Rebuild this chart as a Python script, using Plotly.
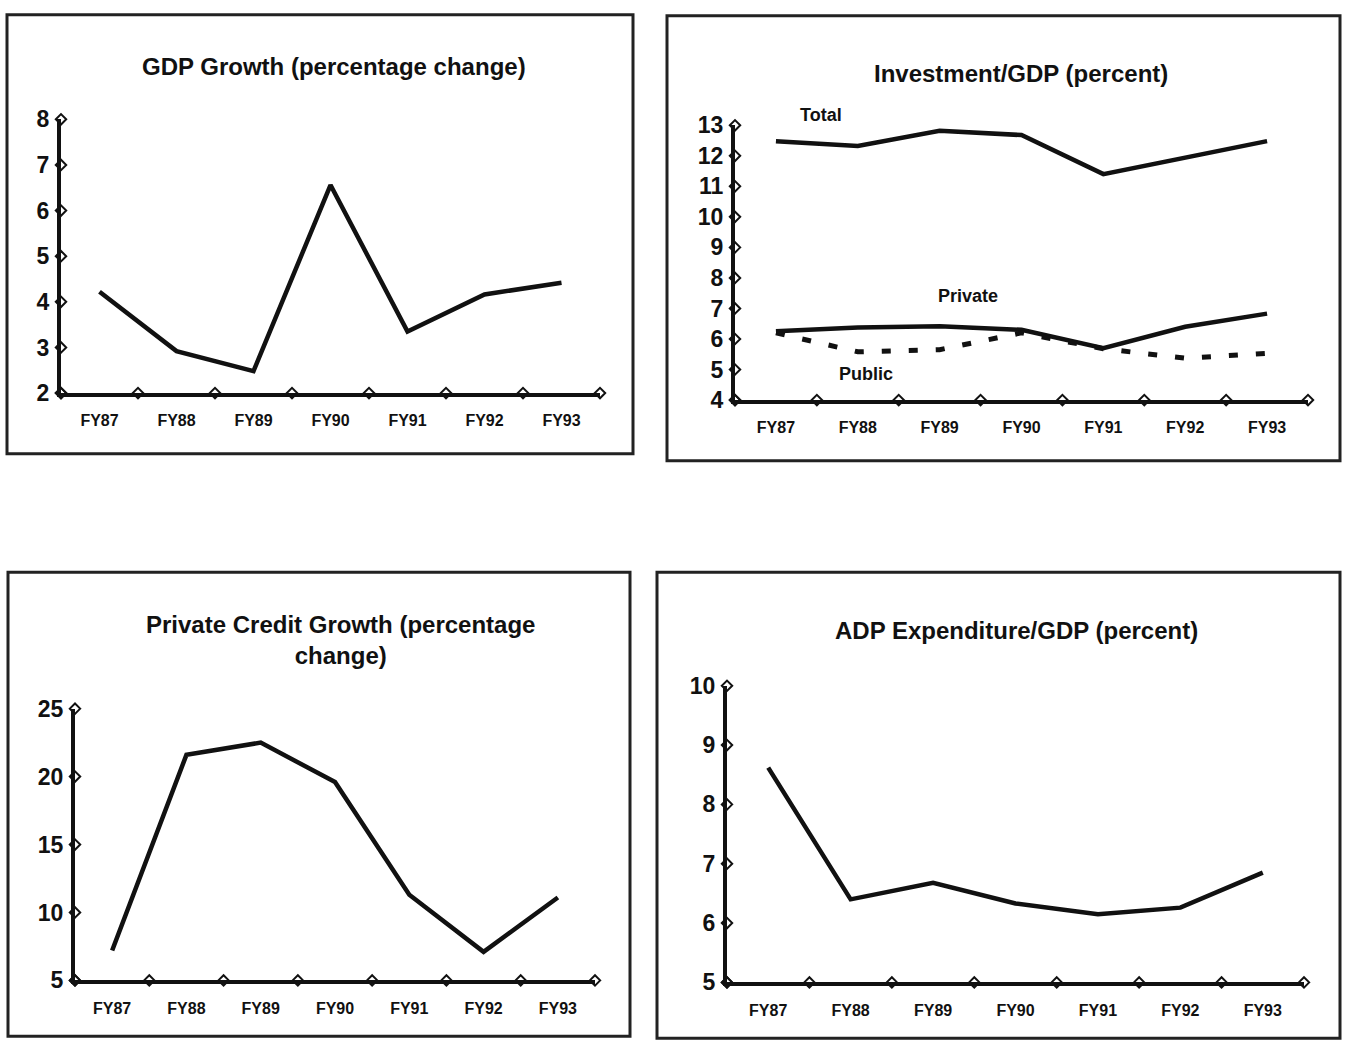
import plotly.graph_objects as go

# Fiscal years shown on every panel
years = ["FY87", "FY88", "FY89", "FY90", "FY91", "FY92", "FY93"]

# GDP growth (percentage change)
gdp_growth = [4.22, 2.92, 2.48, 6.56, 3.35, 4.16, 4.42]
gdp_ticks = [2, 3, 4, 5, 6, 7, 8]

# Investment / GDP (percent)
inv_total = [12.48, 12.32, 12.82, 12.68, 11.40, 11.95, 12.48]
inv_private = [6.25, 6.38, 6.42, 6.30, 5.70, 6.40, 6.83]
inv_public = [6.20, 5.58, 5.65, 6.20, 5.68, 5.37, 5.53]
inv_ticks = [4, 5, 6, 7, 8, 9, 10, 11, 12, 13]

# Private credit growth (percentage change)
credit_growth = [7.2, 21.6, 22.5, 19.6, 11.3, 7.1, 11.1]
credit_ticks = [5, 10, 15, 20, 25]

# ADP expenditure / GDP (percent)
adp_share = [8.62, 6.40, 6.68, 6.33, 6.15, 6.26, 6.85]
adp_ticks = [5, 6, 7, 8, 9, 10]

W, H = 1346, 1043
FONT = "Liberation Sans, Arial, sans-serif"


def px_x(p):
    return p / W


def px_y(p):
    # page pixel row -> paper fraction (rendered page shows a small top inset)
    return 1 - ((p - 10.2) / 0.9795) / H


fig = go.Figure()

panels = [
    dict(n=1, xp=(61, 600), yp=(117, 392), ticks=gdp_ticks,
         box=(7, 12, 633, 453), title="GDP Growth (percentage change)",
         tpos=(334, 64)),
    dict(n=2, xp=(735, 1308), yp=(123, 399), ticks=inv_ticks,
         box=(667, 13, 1340, 460), title="Investment/GDP (percent)",
         tpos=(1021, 71)),
    dict(n=3, xp=(75, 595), yp=(709, 982), ticks=credit_ticks,
         box=(8, 572, 630, 1038),
         title="Private Credit Growth (percentage<br>change)",
         tpos=(340, 640)),
    dict(n=4, xp=(727, 1304), yp=(686, 984), ticks=adp_ticks,
         box=(657, 572, 1340, 1040), title="ADP Expenditure/GDP (percent)",
         tpos=(1016, 631)),
]

series = {
    1: [(gdp_growth, "solid")],
    2: [(inv_total, "solid"), (inv_private, "solid"), (inv_public, "9px,18px")],
    3: [(credit_growth, "solid")],
    4: [(adp_share, "solid")],
}

xpos = list(range(len(years)))
bounds = [i - 0.5 for i in range(len(years) + 1)]

shapes = []
annotations = []
for p in panels:
    n = p["n"]
    xa = "x" if n == 1 else f"x{n}"
    ya = "y" if n == 1 else f"y{n}"
    ymin, ymax = p["ticks"][0], p["ticks"][-1]

    for vals, dash in series[n]:
        fig.add_trace(go.Scatter(
            x=xpos, y=vals, mode="lines", xaxis=xa, yaxis=ya,
            line=dict(color="#111", width=4.5 if dash == "solid" else 5,
                      dash=dash),
            showlegend=False, cliponaxis=False))

    # diamond tick marks along the value axis and the category axis
    fig.add_trace(go.Scatter(
        x=[bounds[0]] * len(p["ticks"]), y=p["ticks"], mode="markers",
        xaxis=xa, yaxis=ya, cliponaxis=False, showlegend=False,
        marker=dict(symbol="diamond-open", size=8, color="#111",
                    line=dict(width=2, color="#111"))))
    fig.add_trace(go.Scatter(
        x=bounds, y=[ymin] * len(bounds), mode="markers",
        xaxis=xa, yaxis=ya, cliponaxis=False, showlegend=False,
        marker=dict(symbol="diamond-open", size=8, color="#111",
                    line=dict(width=2, color="#111"))))

    xkey = "xaxis" if n == 1 else f"xaxis{n}"
    ykey = "yaxis" if n == 1 else f"yaxis{n}"
    fig.update_layout(**{
        xkey: dict(
            domain=[px_x(p["xp"][0]), px_x(p["xp"][1])],
            anchor=ya, range=[bounds[0], bounds[-1]],
            tickvals=xpos, ticktext=years, ticks="",
            showgrid=False, zeroline=False,
            showline=True, linecolor="#111", linewidth=4,
            ticklabelstandoff=10,
            tickfont=dict(family=FONT, size=16, color="#111", weight="bold"),
        ),
        ykey: dict(
            domain=[px_y(p["yp"][1]), px_y(p["yp"][0])],
            anchor=xa, range=[ymin, ymax],
            tickvals=p["ticks"], ticks="",
            showgrid=False, zeroline=False,
            showline=True, linecolor="#111", linewidth=4,
            ticklabelstandoff=3,
            tickfont=dict(family=FONT, size=23, color="#111", weight="bold"),
        ),
    })

    x0, y0, x1, y1 = p["box"]
    shapes.append(dict(type="rect", xref="paper", yref="paper",
                       x0=px_x(x0), x1=px_x(x1), y0=px_y(y1), y1=px_y(y0),
                       line=dict(color="#222", width=3)))
    annotations.append(dict(
        text=p["title"], xref="paper", yref="paper",
        x=px_x(p["tpos"][0]), y=px_y(p["tpos"][1]),
        xanchor="center", yanchor="middle", showarrow=False,
        font=dict(family=FONT, size=24, color="#111", weight="bold")))

# series labels on the investment panel
for label, xv, yv in [("Total", 821, 113), ("Private", 968, 294),
                      ("Public", 866, 373)]:
    annotations.append(dict(
        text=label, x=px_x(xv), y=px_y(yv), xref="paper", yref="paper",
        showarrow=False, xanchor="center", yanchor="middle",
        font=dict(family=FONT, size=18, color="#111", weight="bold")))

fig.update_layout(
    width=W, height=H,
    margin=dict(l=0, r=0, t=0, b=0),
    paper_bgcolor="white", plot_bgcolor="white",
    shapes=shapes, annotations=annotations,
    showlegend=False,
)

fig.write_html("out.html")
